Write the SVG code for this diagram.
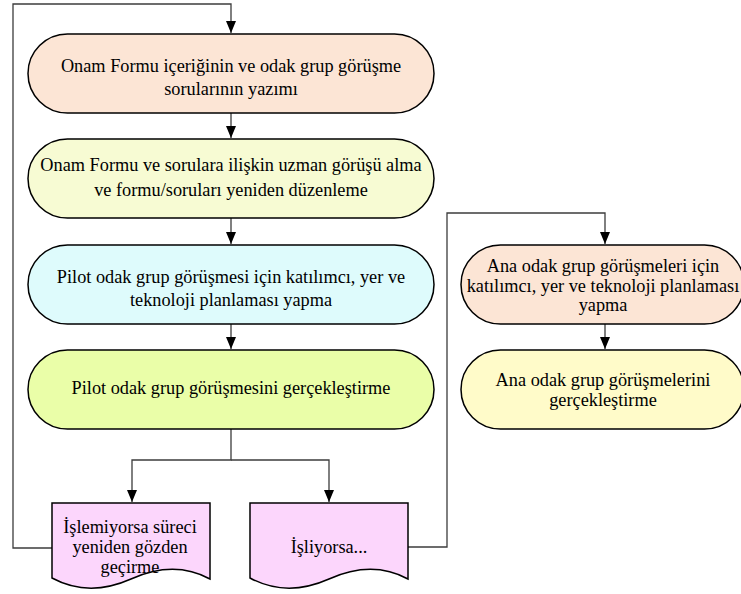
<svg xmlns="http://www.w3.org/2000/svg" width="741" height="594" viewBox="0 0 741 594">
<defs>
<marker id="ah" markerWidth="12" markerHeight="10" refX="12" refY="5" orient="auto" markerUnits="userSpaceOnUse" viewBox="0 0 12 10">
<path d="M0,0 L12,5 L0,10 Z" fill="#000"/>
</marker>
<style>
.n{stroke:#000;stroke-width:1.5}
.t{font-family:"Liberation Serif","Times New Roman",serif;font-size:18.3px;fill:#000;text-anchor:middle}
.c{fill:none;stroke:#3c3c3c;stroke-width:1.3}
</style>
</defs>
<rect width="741" height="594" fill="#fff"/>
<g id="connectors">
<path class="c" d="M52,548 H13 V4 H231 V33" marker-end="url(#ah)"/>
<path class="c" d="M231,113 V138" marker-end="url(#ah)"/>
<path class="c" d="M231,218 V244" marker-end="url(#ah)"/>
<path class="c" d="M231,324 V349" marker-end="url(#ah)"/>
<path class="c" d="M231,429 V460 H132 V502" marker-end="url(#ah)"/>
<path class="c" d="M231,460 H329 V502" marker-end="url(#ah)"/>
<path class="c" d="M408,547 H447 V213 H605 V244" marker-end="url(#ah)"/>
<path class="c" d="M605,324 V349" marker-end="url(#ah)"/>
</g>
<g id="n1">
<rect class="n" x="28" y="34" width="406" height="79" rx="39.5" fill="#FCE5D5"/>
<text class="t" x="231" y="72">Onam Formu içeriğinin ve odak grup görüşme</text>
<text class="t" x="231" y="95">sorularının yazımı</text>
</g>
<g id="n2">
<rect class="n" x="28" y="139" width="406" height="79" rx="39.5" fill="#F7FBD3"/>
<text class="t" x="231" y="171">Onam Formu ve sorulara ilişkin uzman görüşü alma</text>
<text class="t" x="231" y="196">ve formu/soruları yeniden düzenleme</text>
</g>
<g id="n3">
<rect class="n" x="28" y="245" width="406" height="79" rx="39.5" fill="#DEFBFC"/>
<text class="t" x="231" y="283">Pilot odak grup görüşmesi için katılımcı, yer ve</text>
<text class="t" x="231" y="306">teknoloji planlaması yapma</text>
</g>
<g id="n4">
<rect class="n" x="28" y="350" width="406" height="79" rx="39.5" fill="#EAFEA8"/>
<text class="t" x="231" y="394">Pilot odak grup görüşmesini gerçekleştirme</text>
</g>
<g id="d1">
<path class="n" d="M52,503 H210 V579 C186,566 160,566 131,579 C104,591 78,592 52,578 Z" fill="#FCD6FC"/>
<text class="t" x="130" y="533">İşlemiyorsa süreci</text>
<text class="t" x="130" y="553">yeniden gözden</text>
<text class="t" x="130" y="573">geçirme</text>
</g>
<g id="d2">
<path class="n" d="M250,503 H408 V579 C384,566 358,566 329,579 C302,591 276,592 250,578 Z" fill="#FCD6FC"/>
<text class="t" x="329" y="553">İşliyorsa...</text>
</g>
<g id="r1">
<rect class="n" x="461" y="245" width="283" height="79" rx="39.5" fill="#FCE5D5"/>
<text class="t" x="603" y="272">Ana odak grup görüşmeleri için</text>
<text class="t" x="603" y="292">katılımcı, yer ve teknoloji planlaması</text>
<text class="t" x="603" y="311">yapma</text>
</g>
<g id="r2">
<rect class="n" x="461" y="350" width="283" height="79" rx="39.5" fill="#FFFBC9"/>
<text class="t" x="603" y="386">Ana odak grup görüşmelerini</text>
<text class="t" x="603" y="406">gerçekleştirme</text>
</g>
</svg>
